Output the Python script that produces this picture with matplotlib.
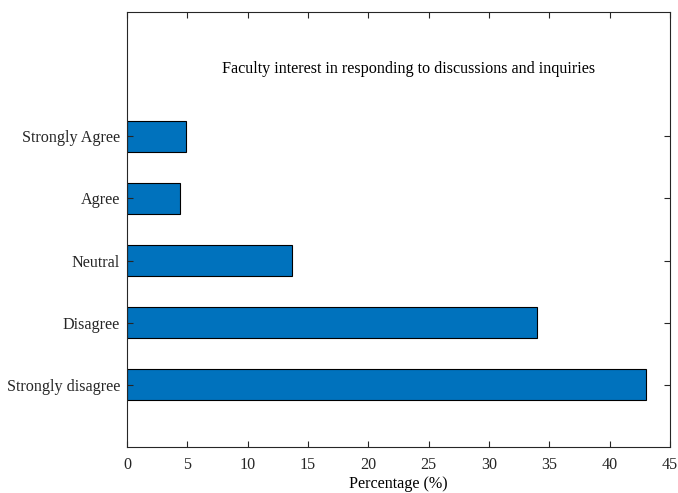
import matplotlib
matplotlib.use('Agg')
import matplotlib.pyplot as plt

# data
categories = ['Strongly disagree', 'Disagree', 'Neutral', 'Agree', 'Strongly Agree']
percentages = [43.0, 34.0, 13.65, 4.4, 4.9]
title_text = 'Faculty interest in responding to discussions and inquiries'
x_ticks = [0, 5, 10, 15, 20, 25, 30, 35, 40, 45]

plt.rcParams['font.family'] = ['Liberation Serif', 'DejaVu Serif']
plt.rcParams['font.size'] = 11.6

fig = plt.figure(figsize=(6.78, 4.93), dpi=100)
ax = fig.add_axes([0.1873, 0.0933, 0.8009, 0.8824])

pos = list(range(1, len(categories) + 1))
ax.barh(pos, percentages, height=0.5, color='#0072BD', edgecolor='black', linewidth=0.8)

ax.set_xlim(0, 45)
ax.set_ylim(0, 7)
ax.set_xticks(x_ticks)
ax.set_yticks(pos)
ax.set_yticklabels(categories)
ax.set_xlabel('Percentage (%)', labelpad=2)

ax.tick_params(direction='in', top=True, right=True, length=4, width=0.8, colors='#262626')
ax.tick_params(axis='x', pad=7)
ax.tick_params(axis='y', pad=5)
for sp in ax.spines.values():
    sp.set_color('#262626')
    sp.set_linewidth(0.8)

ax.text(0.518, 0.869, title_text, transform=ax.transAxes, ha='center', va='center')

fig.savefig('out.png', dpi=100)
